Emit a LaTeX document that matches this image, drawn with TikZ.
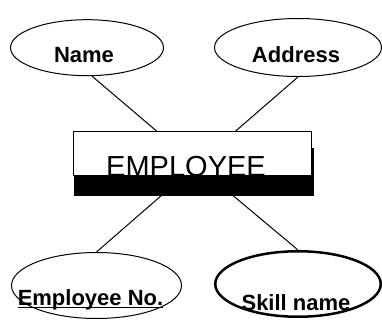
\documentclass[tikz,border=0pt]{standalone}
\usepackage{fontspec}
\setmainfont{Liberation Sans}
\usetikzlibrary{shapes.geometric}
\newcommand{\undl}[1]{\setbox0\hbox{#1}\rlap{\rule[-3pt]{\wd0}{1.4pt}}\box0}

\tikzset{
  attr/.style={ellipse, draw, line width=1pt, inner sep=0pt},
  entity/.style={draw, fill=white, line width=1pt, inner sep=0pt}
}

\begin{document}
\begin{tikzpicture}[x=1pt, y=-1pt, every node/.style={font=\bfseries\fontsize{22}{26}\selectfont}]
\useasboundingbox (0,0) rectangle (382,320);

\coordinate (hub) at (196.5,165);

% attributes
\node[attr, minimum width=153, minimum height=56,
      label={[xshift=-3pt, yshift=-7pt]center:Name}] (name) at (87,47.7) {};
\node[attr, minimum width=167, minimum height=58,
      label={[xshift=-2pt, yshift=-7pt]center:Address}] (address) at (298,47.5) {};
\node[attr, minimum width=170, minimum height=66,
      label={[xshift=-6pt, yshift=-14pt]center:\undl{Employee No.}}] (empno) at (96.5,285.5) {};
\node[attr, line width=2.5pt, minimum width=165.5, minimum height=65.5,
      label={[xshift=-2pt, yshift=-19pt]center:Skill name}] (skill) at (298,284) {};

\foreach \a in {name.-80, address.south, empno.north, skill.north}
  \draw[line width=1pt] (\a) -- (hub);

% entity with its shadow
\fill (74,148) rectangle (314,196);
\node[entity, minimum width=238, minimum height=44,
      label={[xshift=-6pt, yshift=-12.4pt, font=\mdseries\fontsize{29}{34}\selectfont]center:EMPLOYEE}] (emp) at (192,154) {};
\end{tikzpicture}
\end{document}
